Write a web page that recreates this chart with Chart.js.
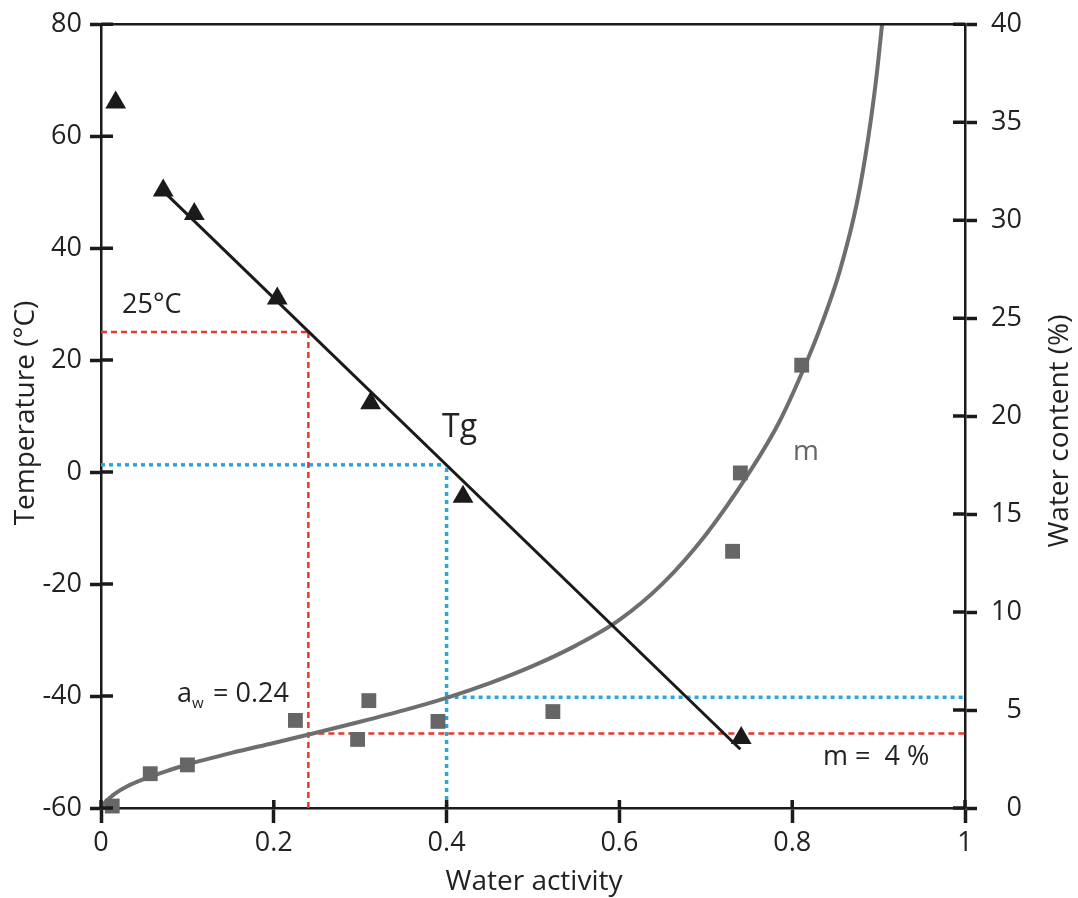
<!DOCTYPE html>
<html lang="en">
<head>
<meta charset="UTF-8">
<title>Tg and water content vs water activity</title>
<script src="https://cdn.jsdelivr.net/npm/chart.js"></script>
<style>
    body { margin: 0; background: #fff; }
    #wrap { width: 1078px; height: 898px; }
</style>
</head>
<body>
<div id="wrap"><canvas id="grafico" width="1078" height="898"></canvas></div>

<script>
// Tg measured points (water activity, temperature °C)
const tgAw   = [0.017, 0.072, 0.108, 0.204, 0.312, 0.419, 0.741];
const tgTemp = [66, 50.3, 46.1, 31, 12.3, -4.4, -47.5];

// Tg fitted line
const fitAw   = [0.07, 0.74];
const fitTemp = [50.5, -49.5];

// water content measured points (water activity, %)
const mAw = [0.013, 0.057, 0.100, 0.225, 0.297, 0.310, 0.390, 0.523, 0.731, 0.740, 0.811];
const mWc = [0.1, 1.75, 2.2, 4.47, 3.5, 5.48, 4.42, 4.92, 13.1, 17.1, 22.6];

// sorption curve
const curveAw = [0, 0.005, 0.015, 0.03, 0.05, 0.075, 0.1, 0.15, 0.2, 0.25, 0.3, 0.35, 0.4, 0.45, 0.5,
                 0.55, 0.6, 0.65, 0.7, 0.75, 0.785, 0.817, 0.835, 0.855, 0.875, 0.888, 0.898, 0.904];
const curveWc = [0.05, 0.3, 0.7, 1.1, 1.48, 1.87, 2.22, 2.8, 3.32, 3.85, 4.4, 4.98, 5.62, 6.37, 7.25,
                 8.3, 9.6, 11.45, 13.95, 17.1, 19.7, 22.8, 24.8, 27.4, 30.9, 34.2, 37.5, 40];

// reading guides
const awRed = 0.24, tRed = 25, mRed = 3.8;
const awBlue = 0.4, tBlue = 1.3, mBlue = 5.65;

const FONT = "'Open Sans', 'Noto Sans', sans-serif";
const INK = '#1a1a1a';
const GREY = '#666666';
const RED = '#e5392e';
const BLUE = '#2ba6dd';

const punti = (xs, ys) => xs.map((x, i) => ({ x: x, y: ys[i] }));

function guida(dati, colore, dash, width, asse) {
    return {
        type: 'line', data: dati, yAxisID: asse,
        borderColor: colore, borderWidth: width, borderDash: dash,
        pointRadius: 0, fill: false, tension: 0
    };
}

// inward half of the cross ticks + top frame line
const tacche = {
    id: 'tacche',
    afterDraw(chart) {
        const c = chart.ctx;
        const a = chart.chartArea;
        c.save();
        c.strokeStyle = INK;
        c.lineWidth = 2.5;
        c.beginPath();
        c.moveTo(a.left, a.top);
        c.lineTo(a.right, a.top);
        c.stroke();
        c.lineWidth = 3.5;
        c.beginPath();
        const sx = chart.scales.x;
        sx.ticks.forEach(t => {
            const p = sx.getPixelForValue(t.value);
            c.moveTo(p, a.bottom); c.lineTo(p, a.bottom - 8);
        });
        const sy = chart.scales.y;
        sy.ticks.forEach(t => {
            const p = sy.getPixelForValue(t.value);
            c.moveTo(a.left, p); c.lineTo(a.left + 12, p);
        });
        const sy2 = chart.scales.y2;
        sy2.ticks.forEach(t => {
            const p = sy2.getPixelForValue(t.value);
            c.moveTo(a.right, p); c.lineTo(a.right - 12, p);
        });
        c.stroke();
        c.restore();
    }
};

// annotations and axis titles
const testi = {
    id: 'testi',
    afterDraw(chart) {
        const c = chart.ctx;
        c.save();
        c.fillStyle = '#222';
        c.textBaseline = 'alphabetic';
        c.textAlign = 'left';

        c.font = '27px ' + FONT;
        c.fillText('25°C', 122, 313);
        c.fillText('a', 177, 702);
        c.fillText('= 0.24', 213, 702);
        c.fillText('m =  4 %', 823, 765);
        c.font = '15px ' + FONT;
        c.fillText('w', 192, 708);

        c.font = '32px ' + FONT;
        c.fillText('Tg', 442, 437);

        c.fillStyle = GREY;
        c.font = '28px ' + FONT;
        c.fillText('m', 793, 460);

        c.fillStyle = '#222';
        c.font = '28px ' + FONT;
        c.textAlign = 'center';
        c.fillText('Water activity', 534, 890);

        c.save();
        c.translate(34, 413);
        c.rotate(-Math.PI / 2);
        c.fillText('Temperature (°C)', 0, 0);
        c.restore();

        c.save();
        c.translate(1068, 431);
        c.rotate(-Math.PI / 2);
        c.fillText('Water content (%)', 0, 0);
        c.restore();

        c.restore();
    }
};

const assiComuni = {
    grid: { drawOnChartArea: false, tickWidth: 3.5, tickColor: INK },
    border: { color: INK, width: 2.5 },
};

let ctx = document.getElementById('grafico').getContext('2d');
let chart = new Chart(ctx, {
    data: {
        datasets: [
            {
                type: 'scatter', data: punti(tgAw, tgTemp), yAxisID: 'y',
                pointStyle: 'triangle', pointRadius: 12, pointBackgroundColor: INK,
                pointBorderWidth: 0, clip: false
            },
            {
                type: 'scatter', data: punti(mAw, mWc), yAxisID: 'y2',
                pointStyle: 'rect', pointRadius: 10.5, pointBackgroundColor: GREY,
                pointBorderWidth: 0, clip: false
            },
            {
                type: 'line', data: punti(fitAw, fitTemp), yAxisID: 'y',
                borderColor: INK, borderWidth: 3, pointRadius: 0, fill: false
            },
            {
                type: 'line', data: punti(curveAw, curveWc), yAxisID: 'y2',
                borderColor: '#6e6e6e', borderWidth: 4, pointRadius: 0, fill: false,
                cubicInterpolationMode: 'monotone', clip: false
            },
            guida([{ x: 0, y: tRed }, { x: awRed, y: tRed }], RED, [6, 4], 2.5, 'y'),
            guida([{ x: awRed, y: -60 }, { x: awRed, y: tRed }], RED, [6, 4], 2.5, 'y'),
            guida([{ x: awRed, y: mRed }, { x: 1, y: mRed }], RED, [6, 4], 2.5, 'y2'),
            guida([{ x: 0, y: tBlue }, { x: awBlue, y: tBlue }], BLUE, [4, 4], 3.5, 'y'),
            guida([{ x: awBlue, y: -60 }, { x: awBlue, y: tBlue }], BLUE, [4, 4], 3.5, 'y'),
            guida([{ x: awBlue, y: mBlue }, { x: 1, y: mBlue }], BLUE, [4, 4], 3.5, 'y2')
        ]
    },
    options: {
        responsive: false,
        animation: false,
        devicePixelRatio: 1,
        layout: { padding: { top: 20, right: 56, bottom: 0, left: 0 } },
        plugins: { legend: { display: false }, tooltip: { enabled: false } },
        scales: {
            x: {
                type: 'linear', position: 'bottom', min: 0, max: 1,
                ticks: {
                    stepSize: 0.2, color: '#222', font: { family: FONT, size: 27 }, padding: 4, maxRotation: 0,
                    callback: v => String(Math.round(v * 10) / 10)
                },
                grid: Object.assign({}, assiComuni.grid, { tickLength: 15 }),
                border: assiComuni.border,
                afterFit: s => { s.height = 90; }
            },
            y: {
                type: 'linear', position: 'left', min: -60, max: 80,
                ticks: { stepSize: 20, color: '#222', font: { family: FONT, size: 27 }, padding: 8 },
                grid: Object.assign({}, assiComuni.grid, { tickLength: 11 }),
                border: assiComuni.border,
                afterFit: s => { s.width = 101; }
            },
            y2: {
                type: 'linear', position: 'right', min: 0, max: 40,
                ticks: { stepSize: 5, color: '#222', font: { family: FONT, size: 27 }, crossAlign: 'far' },
                grid: Object.assign({}, assiComuni.grid, { tickLength: 12 }),
                border: assiComuni.border,
                afterFit: s => { s.width = 57; }
            }
        }
    },
    plugins: [tacche, testi]
});
</script>
</body>
</html>
